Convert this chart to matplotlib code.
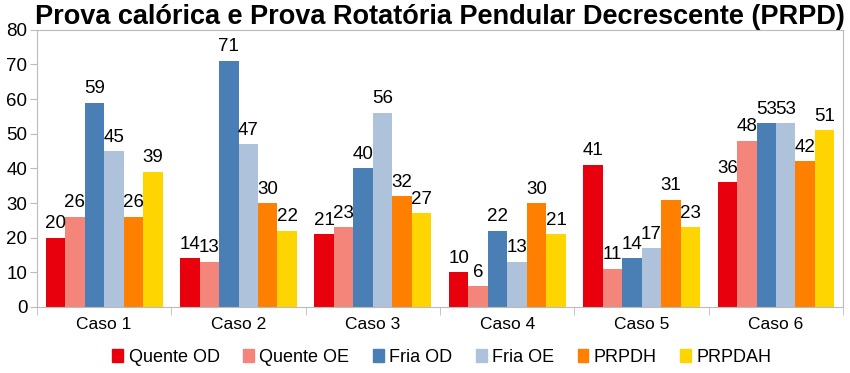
import numpy as np
import matplotlib.pyplot as plt
from matplotlib.patches import Patch

plt.rcParams['font.family'] = ['Liberation Sans', 'DejaVu Sans']

casos = ["Caso 1", "Caso 2", "Caso 3", "Caso 4", "Caso 5", "Caso 6"]
series = ["Quente OD", "Quente OE", "Fria OD", "Fria OE", "PRPDH", "PRPDAH"]
quente_od = [20, 14, 21, 10, 41, 36]
quente_oe = [26, 13, 23, 6, 11, 48]
fria_od = [59, 71, 40, 22, 14, 53]
fria_oe = [45, 47, 56, 13, 17, 53]
prpdh = [26, 30, 32, 30, 31, 42]
prpdah = [39, 22, 27, 21, 23, 51]
valores = [quente_od, quente_oe, fria_od, fria_oe, prpdh, prpdah]
cores = ["#e8000c", "#f4857a", "#4a7fb5", "#aec2dc", "#ff7f00", "#ffd500"]

fig = plt.figure(figsize=(8.5, 3.73), dpi=100)
ax = fig.add_axes([0.0435, 0.177, 0.9485, 0.743])

x = np.arange(len(casos))
w = 0.145
for i in range(len(series)):
    pos = x - 2.5 * w + i * w
    ax.bar(pos, valores[i], w, color=cores[i], linewidth=0)
    for p, v in zip(pos, valores[i]):
        ax.text(p, v + 1.6, str(v), ha='center', va='bottom', fontsize=13.5)

ax.set_xlim(-0.5, len(casos) - 0.5)
ax.set_ylim(0, 80)
ax.set_yticks(range(0, 81, 10))
ax.set_xticks(x)
ax.set_xticklabels(casos)
ax.set_xticks(np.arange(-0.5, len(casos), 1), minor=True)
ax.tick_params(axis='x', which='major', length=0, labelsize=12.5, pad=7)
ax.tick_params(axis='x', which='minor', length=6, color='#bbbbbb')
ax.tick_params(axis='y', length=5, color='#bbbbbb', labelsize=13.5, pad=2)
for s in ax.spines.values():
    s.set_color('#bbbbbb')

ax.set_title("Prova calórica e Prova Rotatória Pendular Decrescente (PRPD)",
             fontsize=19.5, fontweight='bold', pad=2)

handles = [Patch(color=c, label=s) for c, s in zip(cores, series)]
fig.legend(handles=handles, loc='center', bbox_to_anchor=(0.52, 0.042), ncol=6,
           frameon=False, fontsize=13, handlelength=0.6, handleheight=0.7,
           handletextpad=0.3, columnspacing=1.3)

fig.savefig("out.png", dpi=100)
